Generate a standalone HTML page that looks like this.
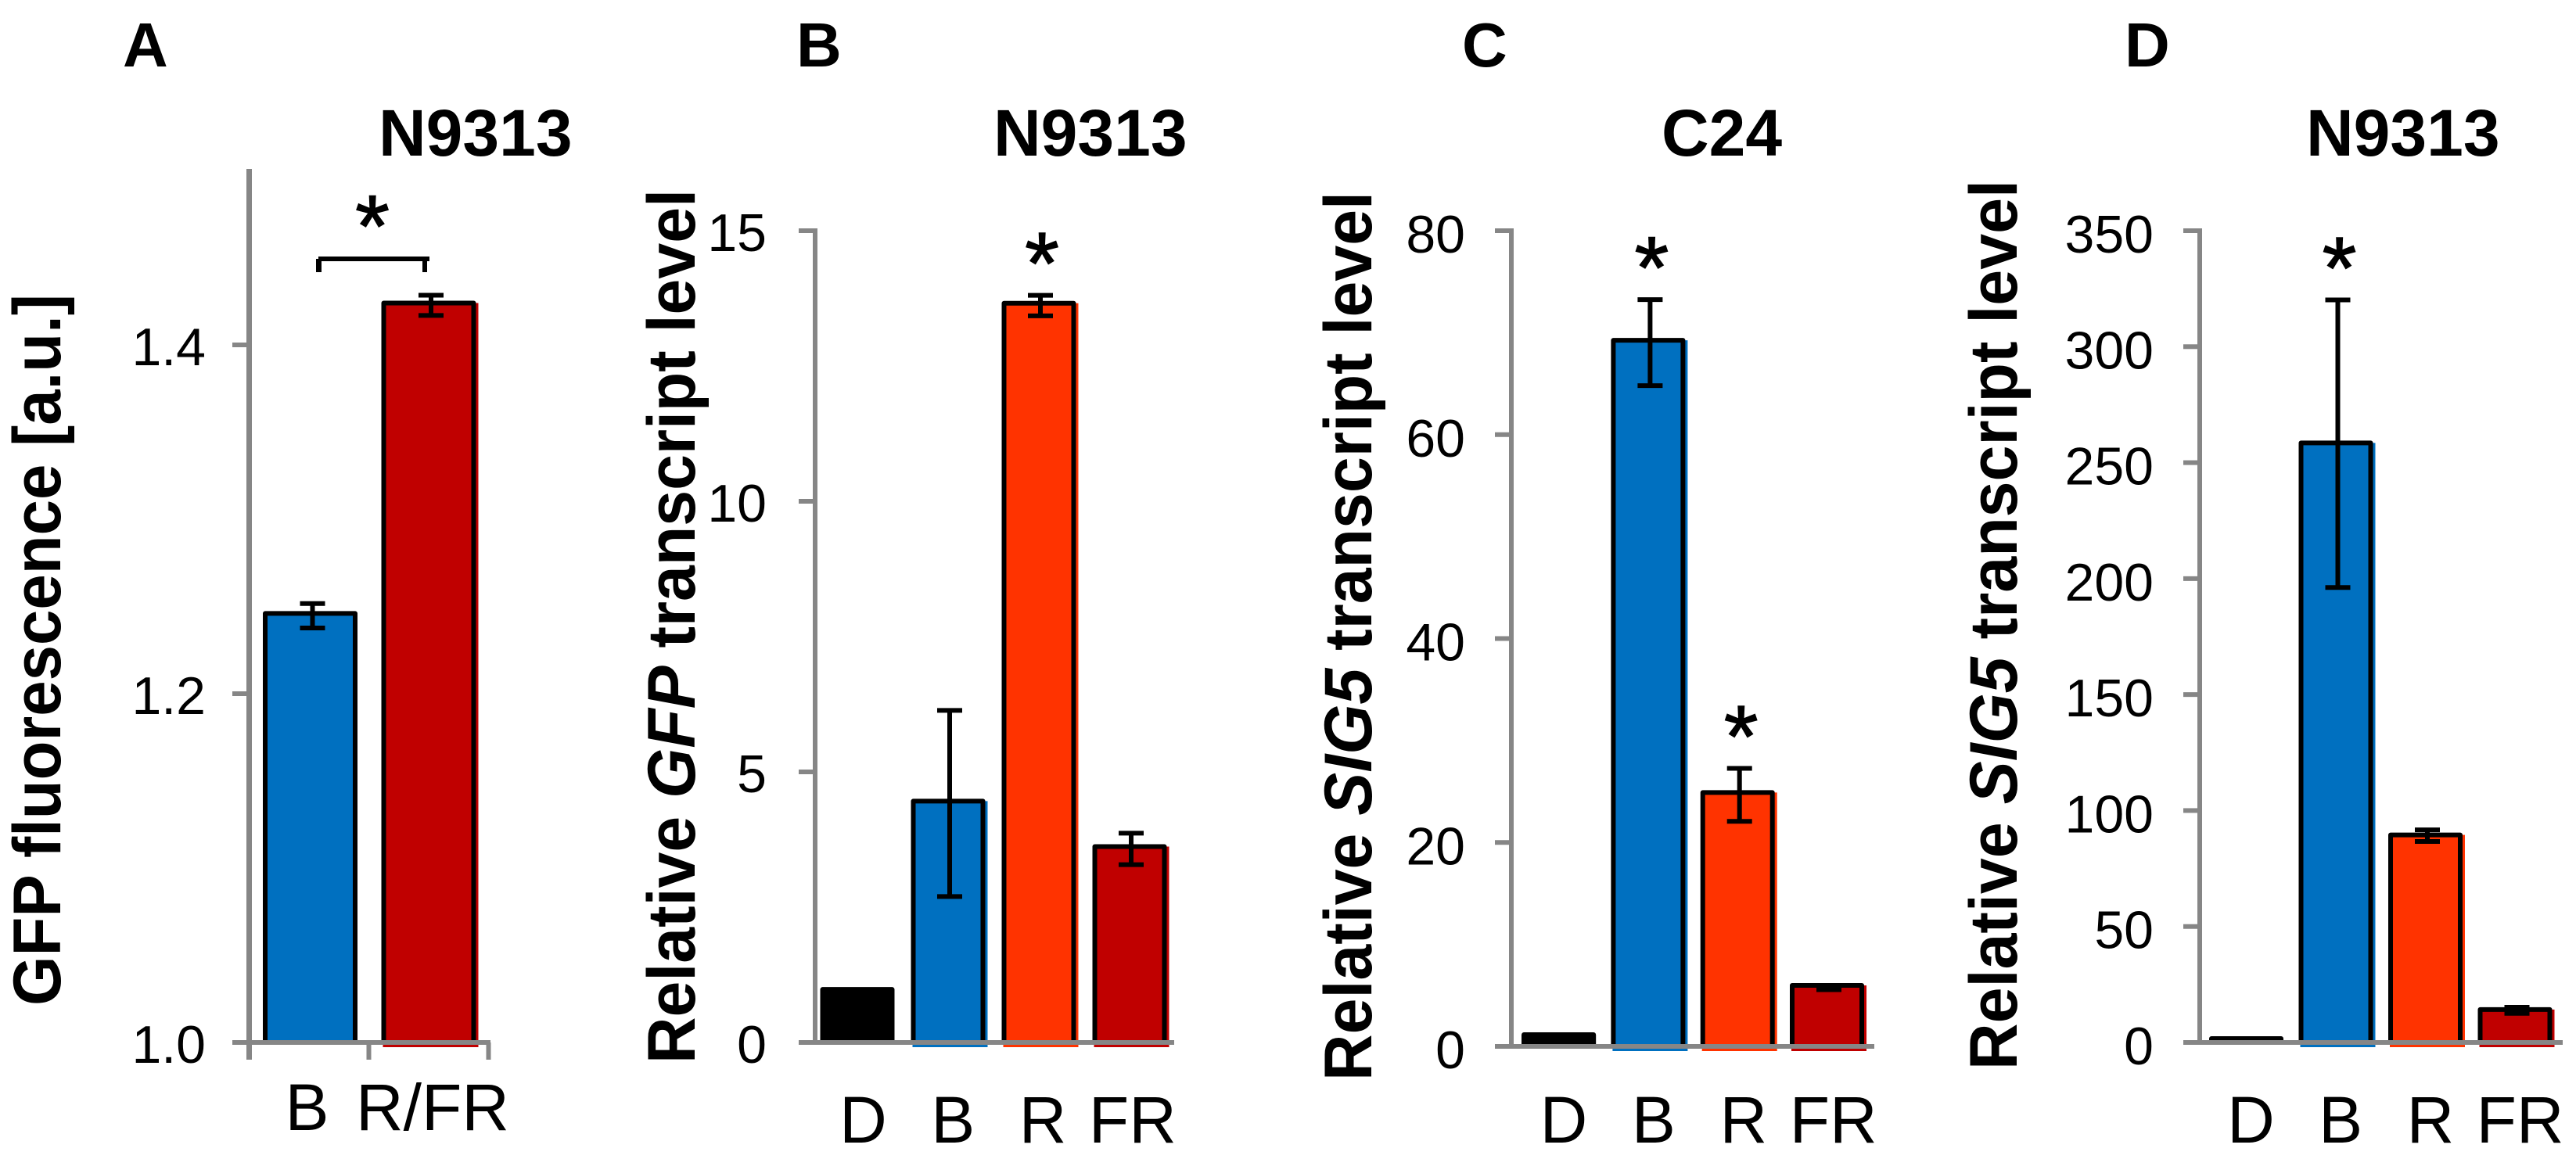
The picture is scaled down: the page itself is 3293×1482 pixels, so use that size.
<!DOCTYPE html>
<html lang="en">
<head>
<meta charset="utf-8">
<title>GFP fluorescence and transcript levels</title>
<style>
html,body{margin:0;padding:0;background:#fff;width:3293px;height:1482px;overflow:hidden}
svg{display:block}
text{font-family:"Liberation Sans",Arial,sans-serif;fill:#000}
</style>
</head>
<body>
<svg id="figure" xmlns="http://www.w3.org/2000/svg" width="3293" height="1482" viewBox="0 0 3293 1482">
  <g>
    <text x="157" y="85" font-size="80" font-weight="700">A</text>
    <text x="484" y="199" font-size="84" font-weight="700">N9313</text>
    <text transform="translate(77,1286) rotate(-90)" font-size="86" font-weight="700" textLength="910" lengthAdjust="spacingAndGlyphs">GFP fluorescence [a.u.]</text>
  </g>
  <g>
    <text x="1018" y="85" font-size="80" font-weight="700">B</text>
    <text x="1270" y="199" font-size="84" font-weight="700">N9313</text>
    <text transform="translate(888,1360) rotate(-90)" font-size="86" font-weight="700" textLength="1118" lengthAdjust="spacingAndGlyphs">Relative <tspan font-style="italic">GFP</tspan> transcript level</text>
  </g>
  <g>
    <text x="1869" y="85" font-size="80" font-weight="700">C</text>
    <text x="2124" y="199" font-size="84" font-weight="700">C24</text>
    <text transform="translate(1753,1382) rotate(-90)" font-size="86" font-weight="700" textLength="1137" lengthAdjust="spacingAndGlyphs">Relative <tspan font-style="italic">SIG5</tspan> transcript level</text>
  </g>
  <g>
    <text x="2716" y="85" font-size="80" font-weight="700">D</text>
    <text x="2948" y="199" font-size="84" font-weight="700">N9313</text>
    <text transform="translate(2578,1368) rotate(-90)" font-size="86" font-weight="700" textLength="1138" lengthAdjust="spacingAndGlyphs">Relative <tspan font-style="italic">SIG5</tspan> transcript level</text>
  </g>
</svg>
<script>
// ---- chart data ----
const panelACategories = ['B', 'R/FR'];
const panelAValues = [1.246, 1.424];
const panelAErrors = [0.007, 0.0058];
const panelATicks = ['1.0', '1.2', '1.4'];
const panelASignificant = [false, false];

const panelBCategories = ['D', 'B', 'R', 'FR'];
const panelBValues = [0.98, 4.46, 13.66, 3.62];
const panelBErrors = [0, 1.72, 0.19, 0.29];
const panelBTicks = ['0', '5', '10', '15'];
const panelBSignificant = [false, false, true, false];

const panelCCategories = ['D', 'B', 'R', 'FR'];
const panelCValues = [1.15, 69.25, 24.9, 5.98];
const panelCErrors = [0, 4.22, 2.6, 0.19];
const panelCTicks = ['0', '20', '40', '60', '80'];
const panelCSignificant = [false, true, true, false];

const panelDCategories = ['D', 'B', 'R', 'FR'];
const panelDValues = [1.7, 258.5, 89.5, 14.2];
const panelDErrors = [0, 62, 2.5, 1.3];
const panelDTicks = ['0', '50', '100', '150', '200', '250', '300', '350'];
const panelDSignificant = [false, true, false, false];

const barColorsAB = ['#0070c0', '#c00000'];
const barColorsFour = ['#000000', '#0070c0', '#ff3300', '#c00000'];

// ---- rendering ----
const SVG_NS = 'http://www.w3.org/2000/svg';
const GREY = '#868686';
const figure = document.getElementById('figure');

function make(parent, tag, attrs, text) {
  const el = document.createElementNS(SVG_NS, tag);
  for (const k in attrs) el.setAttribute(k, attrs[k]);
  if (text !== undefined) el.textContent = text;
  parent.appendChild(el);
  return el;
}

function drawPanel(p) {
  const group = make(figure, 'g', {});
  
  

  const tickMin = parseFloat(p.ticks[0]);
  const tickMax = parseFloat(p.ticks[p.ticks.length - 1]);
  const yScale = function (v) {
    return p.yBottom + (v - tickMin) / (tickMax - tickMin) * (p.yTop - p.yBottom);
  };
  const xCenter = function (i) {
    return p.firstCenter + i * p.step;
  };

  // bars
  p.values.forEach(function (v, i) {
    const c = xCenter(i);
    const left = c - p.barWidth / 2;
    const right = c + p.barWidth / 2;
    const top = yScale(v);
    const plain = p.colors[i] === '#000000' || p.plainBars.indexOf(i) >= 0;
    const fill = make(group, 'rect', {
      x: plain ? left : left + 2,
      y: top,
      width: plain ? p.barWidth : p.barWidth + 1,
      height: Math.max(p.yBottom + (plain ? 0 : 6) - top, 1),
      fill: p.colors[i]
    });
    
    
    const outline = make(group, 'path', {
      d: 'M' + (left + 3) + ' ' + p.yBottom + 'V' + top + 'H' + (right - 3) + 'V' + p.yBottom,
      fill: 'none', stroke: '#000', 'stroke-width': 6, 'stroke-linejoin': 'round'
    });
    
    
  });

  // axes
  const yAxis = make(group, 'rect', {
    x: p.axisX - p.axisWidth / 2, y: p.axisTop, width: p.axisWidth, height: p.axisBottom - p.axisTop, fill: GREY
  });
  
  
  const xAxis = make(group, 'rect', {
    x: p.tickLeft, y: p.yBottom - 3, width: p.axisRight - p.tickLeft, height: 6, fill: GREY
  });
  
  

  // x tick marks between categories (panel A only)
  for (let k = 1; k <= p.xTickCount; k++) {
    const xTick = make(group, 'rect', {
      x: p.axisX + k * p.xTickStep - 3, y: p.yBottom, width: 6, height: p.axisBottom - p.yBottom, fill: GREY
    });
    
    
  }

  // y ticks and labels
  p.ticks.forEach(function (label) {
    const v = parseFloat(label);
    const y = yScale(v);
    const tick = make(group, 'rect', {
      x: p.tickLeft, y: y - 3, width: p.axisX - p.tickLeft, height: 6, fill: GREY
    });
    
    
    const text = make(group, 'text', {
      x: p.labelRight, y: y + p.labelDy, 'font-size': 68, 'text-anchor': 'end'
    }, label);
    
    
  });

  // category labels
  p.categories.forEach(function (label, i) {
    const text = make(group, 'text', {
      x: p.labelFirst + i * p.labelStep, y: p.catBaseline, 'font-size': 84, 'text-anchor': 'middle'
    }, label);
    
    
  });

  // error bars and significance stars
  p.errors.forEach(function (err, i) {
    const c = xCenter(i) + p.errDx;
    const hi = yScale(p.values[i] + err) + p.errDy;
    const lo = yScale(p.values[i] - err) + p.errDy;
    if (err > 0) {
      const bar = make(group, 'path', {
        d: 'M' + c + ' ' + lo + 'V' + hi + 'M' + (c - 16) + ' ' + hi + 'H' + (c + 16) + 'M' + (c - 16) + ' ' + lo + 'H' + (c + 16),
        fill: 'none', stroke: '#000', 'stroke-width': 6
      });
      
      
    }
    if (p.significant[i]) {
      const star = make(group, 'text', {
        x: c + 2, y: hi - 2, 'font-size': 112, stroke: '#000', 'stroke-width': 1.5, 'text-anchor': 'middle'
      }, '*');
      
      
    }
  });
  return group;
}

drawPanel({
  id: 'a', categories: panelACategories, values: panelAValues, errors: panelAErrors,
  ticks: panelATicks, significant: panelASignificant, colors: barColorsAB, plainBars: [0],
  yTop: 441, yBottom: 1333, axisX: 318.5, axisWidth: 7, axisTop: 216, axisBottom: 1355,
  tickLeft: 297, axisRight: 627, labelRight: 263, labelDy: 26, firstCenter: 396.5, step: 151.5,
  barWidth: 121, errDx: 3, errDy: 3, labelFirst: 392.5, labelStep: 160.5, catBaseline: 1445,
  xTickCount: 2, xTickStep: 153
});
drawPanel({
  id: 'b', categories: panelBCategories, values: panelBValues, errors: panelBErrors,
  ticks: panelBTicks, significant: panelBSignificant, colors: barColorsFour, plainBars: [],
  yTop: 295, yBottom: 1333, axisX: 1042, axisWidth: 6, axisTop: 292, axisBottom: 1333,
  tickLeft: 1021, axisRight: 1501, labelRight: 980, labelDy: 26, firstCenter: 1096, step: 116,
  barWidth: 95, errDx: 2, errDy: 3, labelFirst: 1103.5, labelStep: 114.8, catBaseline: 1461,
  xTickCount: 0, xTickStep: 0
});
drawPanel({
  id: 'c', categories: panelCCategories, values: panelCValues, errors: panelCErrors,
  ticks: panelCTicks, significant: panelCSignificant, colors: barColorsFour, plainBars: [],
  yTop: 295, yBottom: 1338, axisX: 1932, axisWidth: 6, axisTop: 292, axisBottom: 1338,
  tickLeft: 1911, axisRight: 2396, labelRight: 1873, labelDy: 28, firstCenter: 1992.6, step: 114.3,
  barWidth: 95, errDx: 2.5, errDy: 3, labelFirst: 1999, labelStep: 114.9, catBaseline: 1461,
  xTickCount: 0, xTickStep: 0
});
drawPanel({
  id: 'd', categories: panelDCategories, values: panelDValues, errors: panelDErrors,
  ticks: panelDTicks, significant: panelDSignificant, colors: barColorsFour, plainBars: [],
  yTop: 295, yBottom: 1333, axisX: 2812, axisWidth: 6, axisTop: 292, axisBottom: 1333,
  tickLeft: 2791, axisRight: 3276, labelRight: 2753, labelDy: 28, firstCenter: 2871.5, step: 114.5,
  barWidth: 95, errDx: 2.5, errDy: 1, labelFirst: 2877.5, labelStep: 114.7, catBaseline: 1461,
  xTickCount: 0, xTickStep: 0
});

// bracket and star comparing the two bars of panel A
const bracket = make(figure, 'path', {
  d: 'M407 328H549V334H546V348H540V334H411V348H404V331H407Z', fill: '#000'
});


const bracketStar = make(figure, 'text', {
  x: 476, y: 328, 'font-size': 112, stroke: '#000', 'stroke-width': 1.5, 'text-anchor': 'middle'
}, '*');


</script>
</body>
</html>
